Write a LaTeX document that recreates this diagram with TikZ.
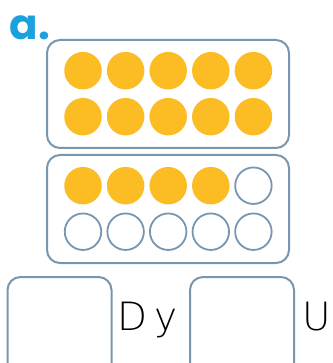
\documentclass[tikz,border=0pt]{standalone}
\usepackage{fontspec}
\setmainfont{DejaVu Sans}
\newfontfamily\thinfont{DejaVu Sans ExtraLight}
\newfontfamily\labfont{Poppins}
\definecolor{frame}{HTML}{7896AF}
\definecolor{dotfill}{HTML}{FBBC24}
\definecolor{labblue}{HTML}{1BA2DE}
\begin{document}
\begin{tikzpicture}[x=1pt,y=-1pt,
  frame/.style={draw=frame,line width=2pt,rounded corners=13pt},
  full/.style={circle,fill=dotfill,minimum size=37.5pt,inner sep=0pt},
  empty/.style={circle,draw=frame,line width=1.8pt,fill=white,minimum size=36.5pt,inner sep=0pt},
  txt/.style={inner sep=0pt,anchor=base west,font=\thinfont\fontsize{39}{40}\selectfont}]
\useasboundingbox (0,0) rectangle (332,363);
\clip (0,0) rectangle (332,363);
\node[anchor=base west,inner sep=0pt,text=labblue,font=\labfont\bfseries\fontsize{42}{42}\selectfont] (lab) at (9.5,39.5) {a.};
\draw[frame] (47,40) rectangle (289,148);
\draw[frame] (47,155) rectangle (289,263);
\foreach \i/\x in {1/83,2/125.6,3/168.2,4/210.8,5/253.4}{
  \node[full] (t1\i) at (\x,70.7) {};
  \node[full] (t2\i) at (\x,116.7) {};
  \node[empty] (b2\i) at (\x,231.7) {};
}
\foreach \i/\x in {1/83,2/125.6,3/168.2,4/210.8}{
  \node[full] (b1\i) at (\x,185.7) {};
}
\node[empty] (b15) at (253.4,185.7) {};
\draw[frame] (7.5,277) rectangle (111.5,380);
\draw[frame] (190,277) rectangle (294,380);
\node[txt] (d) at (117.5,330) {D};
\node[txt] (y) at (154,330) {y};
\node[txt] (u) at (302.5,330) {U};
\end{tikzpicture}
\end{document}
